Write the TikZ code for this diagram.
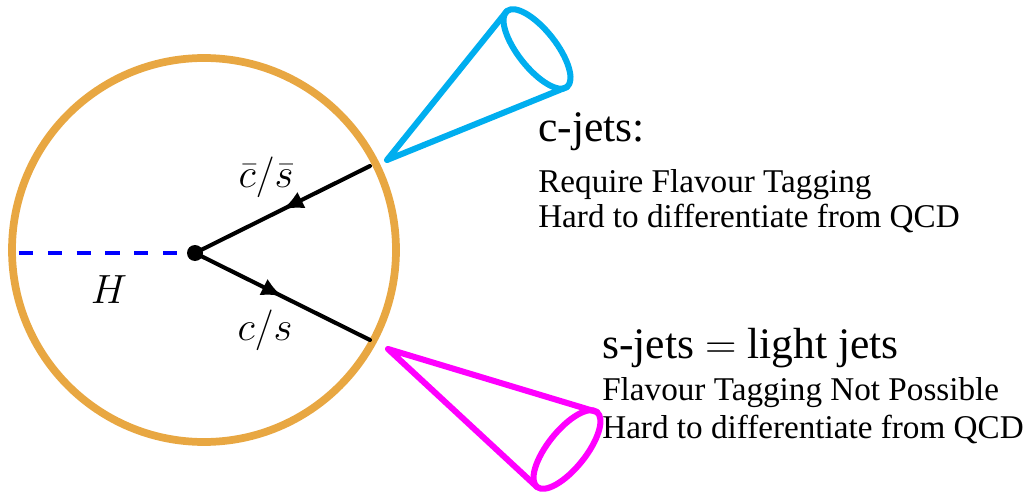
\RequirePackage{fix-cm}
\documentclass[tikz,border=0pt]{standalone}
\usepackage{fontspec}
\setmainfont{Liberation Serif}
\usetikzlibrary{arrows.meta,decorations.markings}

\definecolor{ringorange}{RGB}{232,167,66}
\definecolor{jetcyan}{RGB}{0,174,239}
\definecolor{jetmagenta}{RGB}{255,0,255}

\begin{document}
\begin{tikzpicture}[
    x=0.025cm,
    y=-0.025cm,
    line join=round,
    line cap=round,
    ring/.style={
        draw=ringorange,
        line width=5.5pt
    },
    higgsline/.style={
        blue,
        line width=2.9pt,
        line cap=butt,
        dash pattern=on 10pt off 10.5pt
    },
    fermion/.style={
        line width=2.9pt,
        postaction={decorate},
        decoration={markings,
            mark=at position 0.5 with {\arrow{Latex[length=15pt,width=13pt]}}}
    },
    jetcone/.style={
        line width=4.3pt
    },
    qlabel/.style={
        font=\fontsize{29}{34}\selectfont
    },
    textline/.style={
        anchor=base west,
        inner sep=0pt,
        font=\fontsize{23.6}{28}\selectfont
    },
    heading/.style={
        textline,
        font=\fontsize{31}{37}\selectfont
    }
]
\useasboundingbox (0,0) rectangle (1025,492);

% =========================
% Points
% =========================
\coordinate (ringc) at (204,250);
\coordinate (vtx) at (195,253);
\coordinate (hin) at (19,253);
\coordinate (qbarend) at (370,166);
\coordinate (qend) at (370,340);

\coordinate (capex) at (387,160);
\coordinate (ctop) at (507,11);
\coordinate (cbot) at (567,87);
\coordinate (crim) at (537,49);

\coordinate (sapex) at (388,349);
\coordinate (stop) at (597,412);
\coordinate (sbot) at (537,487);
\coordinate (srim) at (567,449.5);

% =========================
% Decay
% =========================
\draw[ring] (ringc) circle[radius=192];

\draw[higgsline] (hin) -- (vtx);
\draw[fermion] (qbarend) -- (vtx);
\draw[fermion] (vtx) -- (qend);
\fill (vtx) circle[radius=8];

\node[qlabel] (qbarlabel) at (266,177) {$\bar{c}/\bar{s}$};
\node[qlabel] (qlabel) at (265,330) {$c/s$};
\node[qlabel] (higgslabel) at (109,290) {$H$};

% =========================
% Jet cones
% =========================
\draw[jetcone, jetcyan] (ctop) -- (capex) -- (cbot);
\draw[jetcone, jetcyan, rotate around={-51.7:(crim)}] (crim) ellipse[x radius=48.4, y radius=19];

\draw[jetcone, jetmagenta] (stop) -- (sapex) -- (sbot);
\draw[jetcone, jetmagenta, rotate around={51.3:(srim)}] (srim) ellipse[x radius=48, y radius=19];

% =========================
% Texts
% =========================
\node[heading] (cjets) at (538,142) {c-jets:};
\node[textline] (creq) at (538,192) {Require Flavour Tagging};
\node[textline] (cqcd) at (538,227) {Hard to differentiate from QCD};

\node[heading] (sjets) at (602,358) {s-jets $=$ light jets};
\node[textline] (snot) at (602,400) {Flavour Tagging Not Possible};
\node[textline] (sqcd) at (602,438) {Hard to differentiate from QCD};

\end{tikzpicture}
\end{document}
